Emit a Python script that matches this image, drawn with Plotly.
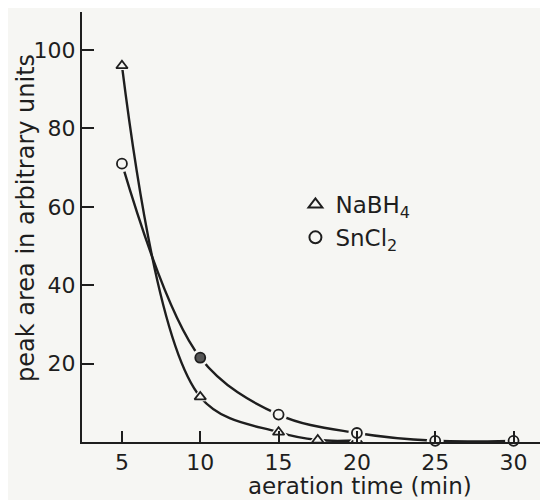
import plotly.graph_objects as go

# data
nabh4_x = [5, 10, 15, 17.5, 20]
nabh4_y = [96, 11.5, 2.5, 0.5, 0.4]
sncl2_x = [5, 10, 15, 20, 25, 30]
sncl2_y = [71, 21.5, 7, 2.3, 0.3, 0.3]
x_ticks = [5, 10, 15, 20, 25, 30]
y_ticks = [20, 40, 60, 80, 100]

INK = "#1e1e1e"
BG = "#f6f6f3"
FONT = "DejaVu Sans"

# SnCl2 point at 10 min is drawn filled (grey) in the reference
sncl2_fill = [BG, "#555555", BG, BG, BG, BG]
nabh4_fill = [BG] * len(nabh4_x)

fig = go.Figure()

for xs, ys, sym, name, fill in [(nabh4_x, nabh4_y, "triangle-up", "NaBH<sub>4</sub>", nabh4_fill),
                                (sncl2_x, sncl2_y, "circle", "SnCl<sub>2</sub>", sncl2_fill)]:
    fig.add_trace(go.Scatter(x=xs, y=ys, mode="lines", line=dict(color=INK, width=2.4, shape="spline", smoothing=1.0),
                             showlegend=False, hoverinfo="skip", cliponaxis=False))
    fig.add_trace(go.Scatter(x=xs, y=ys, mode="markers",
                             marker=dict(symbol=sym, size=17, color=BG, line=dict(width=0)),
                             showlegend=False, hoverinfo="skip", cliponaxis=False))
    fig.add_trace(go.Scatter(x=xs, y=ys, mode="markers", name=name,
                             marker=dict(symbol=sym, size=10, color=fill, line=dict(width=1.8, color=INK)),
                             cliponaxis=False))

fig.update_layout(
    width=548, height=500,
    margin=dict(l=74, r=8, t=4, b=66, autoexpand=False),
    paper_bgcolor=BG, plot_bgcolor=BG,
    font=dict(family=FONT, color=INK, size=20),
    legend=dict(x=0.458, y=0.514, xanchor="left", yanchor="middle", bgcolor="rgba(0,0,0,0)",
                font=dict(size=23, family=FONT), itemsizing="constant", tracegroupgap=0),
    xaxis=dict(range=[2.45, 32.2], tickvals=x_ticks, ticks="inside", ticklen=11, tickwidth=1.5,
               tickcolor=INK, showline=True, linecolor=INK, linewidth=2, showgrid=False, zeroline=False,
               automargin=False, tickfont=dict(size=22)),
    yaxis=dict(range=[0, 109.7], tickvals=y_ticks, ticks="inside", ticklen=12, tickwidth=1.5,
               tickcolor=INK, showline=True, linecolor=INK, linewidth=2, showgrid=False, zeroline=False,
               automargin=False, tickfont=dict(size=22)),
    annotations=[
        dict(text="aeration time (min)", xref="paper", yref="paper", x=0.5966, y=-0.103,
             xanchor="center", yanchor="middle", showarrow=False, font=dict(size=23)),
        dict(text="peak area in arbitrary units", xref="paper", yref="paper", x=-0.1202, y=0.521,
             xanchor="center", yanchor="middle", textangle=-90, showarrow=False, font=dict(size=24)),
    ],
)

fig.write_html("out.html")
